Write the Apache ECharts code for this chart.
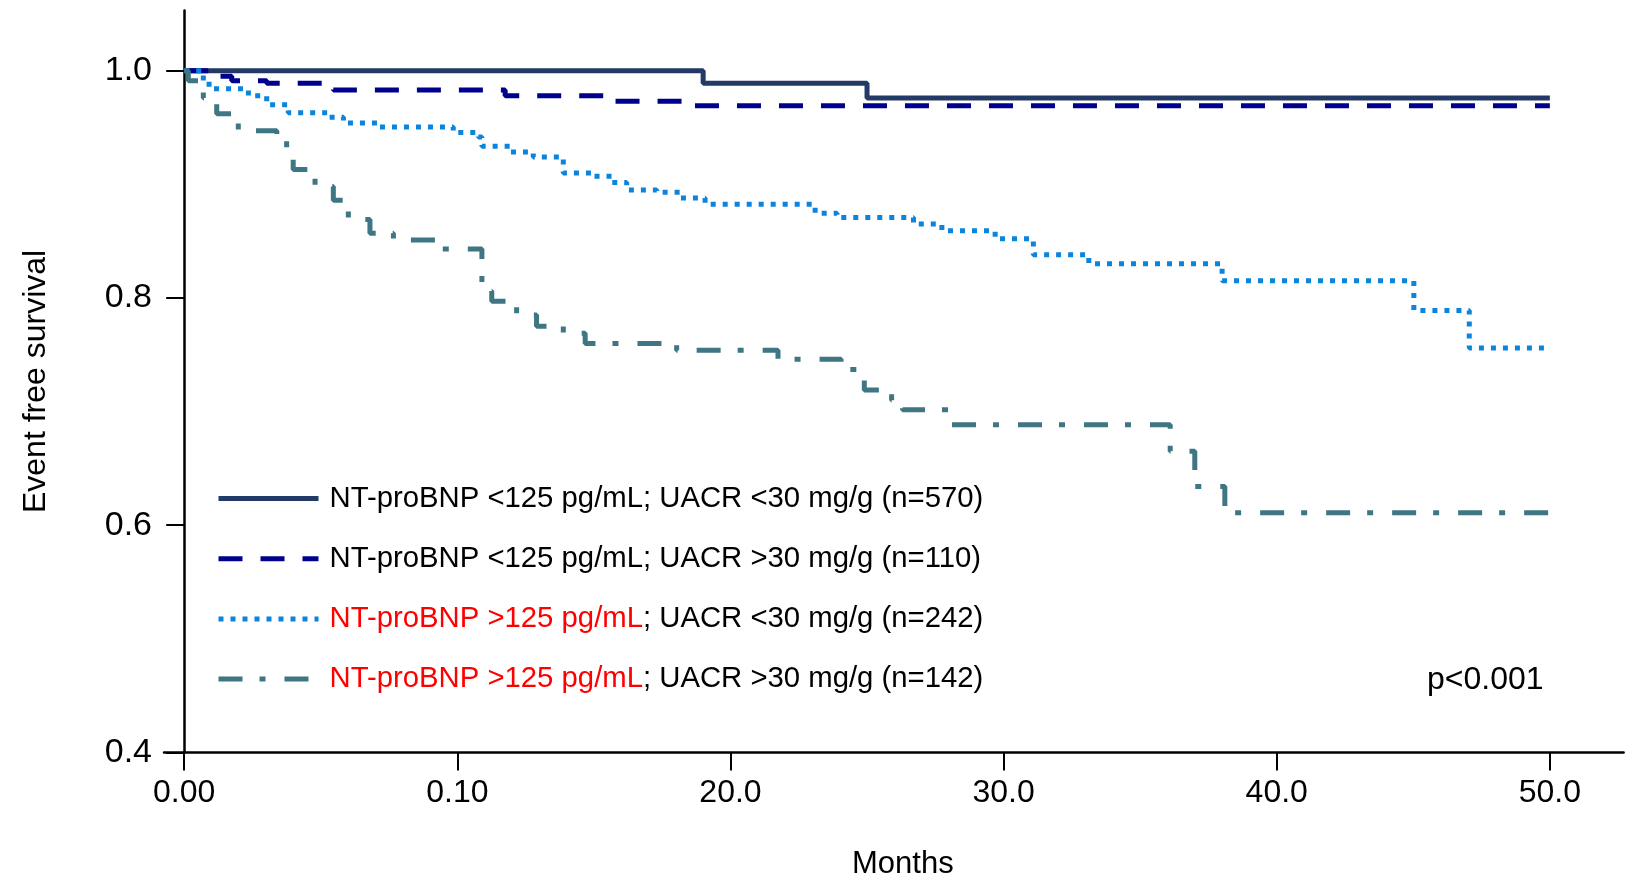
<!DOCTYPE html>
<html>
<head>
<meta charset="utf-8">
<script src="https://cdn.jsdelivr.net/npm/echarts@6/dist/echarts.min.js"></script>
<style>
  html, body { margin: 0; padding: 0; background: #fff; }
  #km_chart { width: 1632px; height: 875px; }
</style>
</head>
<body>
<div id="km_chart"></div>
<script>
// axis ticks
var xTickValues = [0, 10, 20, 30, 40, 50]
var xTickLabels = ['0.00', '0.10', '20.0', '30.0', '40.0', '50.0']
var yTickValues = [0.4, 0.6, 0.8, 1.0]
var yTickLabels = ['0.4', '0.6', '0.8', '1.0']

// group names (legend)
var groupNames = [
  'NT-proBNP <125 pg/mL; UACR <30 mg/g (n=570)',
  'NT-proBNP <125 pg/mL; UACR >30 mg/g (n=110)',
  'NT-proBNP >125 pg/mL; UACR <30 mg/g (n=242)',
  'NT-proBNP >125 pg/mL; UACR >30 mg/g (n=142)'
]

// Kaplan-Meier steps: months and survival after each event
var monthsA = [0, 19, 25, 50]
var survA = [1.0, 0.989, 0.976, 0.976]

var monthsB = [0, 1.0, 1.74, 3.02, 5.46, 11.75, 15.7, 18.27, 50]
var survB = [1.0, 0.995, 0.991, 0.989, 0.983, 0.978, 0.973, 0.969, 0.969]

var monthsC = [0, 0.7, 1.07, 2.35, 3.02, 3.81, 5.28, 5.83, 7.11, 9.85, 10.77, 10.9, 11.93, 12.78,
  13.88, 14.98, 15.65, 16.2, 17.3, 18.15, 19.07, 23.1, 23.9, 26.7, 27.74, 29.69, 31.09, 33.12,
  38.0, 45.02, 47.05, 50]
var survC = [1.0, 0.988, 0.984, 0.978, 0.970, 0.963, 0.959, 0.954, 0.9505, 0.9455, 0.9415, 0.9335,
  0.9285, 0.924, 0.910, 0.907, 0.9015, 0.895, 0.893, 0.888, 0.8825, 0.8746, 0.8707, 0.865, 0.859,
  0.852, 0.838, 0.830, 0.815, 0.789, 0.756, 0.756]

var monthsD = [0, 0.15, 0.7, 1.19, 1.98, 3.39, 3.75, 3.99, 4.79, 5.46, 6.01, 6.8, 7.66, 9.4, 10.9,
  11.26, 12.17, 12.9, 13.88, 14.68, 18.03, 21.74, 24.05, 24.9, 25.9, 26.3, 27.97, 36.1, 37.0, 38.1, 50]
var survD = [1.0, 0.991, 0.976, 0.962, 0.947, 0.9415, 0.931, 0.913, 0.898, 0.886, 0.869, 0.857, 0.851,
  0.843, 0.806, 0.797, 0.785, 0.775, 0.769, 0.760, 0.754, 0.746, 0.737, 0.719, 0.710, 0.7015, 0.6883,
  0.665, 0.634, 0.611, 0.611]

var FONT = '"Liberation Sans", Arial, sans-serif'

function pairs(xs, ys) {
  var out = []
  for (var i = 0; i < xs.length; i++) out.push([xs[i], ys[i]])
  return out
}

function kmSeries(name, xs, ys, color, dash) {
  return {
    name: name,
    type: 'line',
    step: 'end',
    symbol: 'none',
    data: pairs(xs, ys),
    color: color,
    lineStyle: { color: color, width: 5, type: dash, cap: 'butt' }
  }
}

var chart = echarts.init(document.getElementById('km_chart'))
chart.setOption({
  animation: false,
  backgroundColor: '#fff',
  textStyle: { fontFamily: FONT },
  title: {
    text: 'p<0.001',
    left: 1427,
    top: 664,
    padding: 0,
    textStyle: { fontFamily: FONT, fontSize: 32, fontWeight: 'normal', color: '#000' }
  },
  grid: { left: 164, right: 8.4, top: 10.4, bottom: 122.5, containLabel: false, outerBoundsMode: 'none' },
  legend: {
    orient: 'vertical',
    left: 216,
    top: 484,
    padding: 0,
    itemWidth: 100,
    itemHeight: 14,
    itemGap: 31.2,
    lineStyle: { width: 'inherit' },
    itemStyle: { color: 'rgba(0,0,0,0)', borderWidth: 0, opacity: 0 },
    data: groupNames,
    formatter: function(name) {
      var idx = groupNames.indexOf(name)
      if (idx >= 2) {
        var cut = name.indexOf(';')
        return '{r|' + name.slice(0, cut) + '}{k|' + name.slice(cut) + '}'
      }
      return '{k|' + name + '}'
    },
    textStyle: {
      fontFamily: FONT,
      fontSize: 29.3,
      padding: [0, 0, 0, 6],
      rich: {
        r: { color: '#ff0000', fontSize: 29.3, lineHeight: 30, fontFamily: FONT },
        k: { color: '#000000', fontSize: 29.3, lineHeight: 30, fontFamily: FONT }
      }
    }
  },
  xAxis: {
    type: 'value',
    min: -0.74,
    max: 52.7,
    name: 'Months',
    nameLocation: 'middle',
    nameGap: 96,
    nameTextStyle: { fontFamily: FONT, fontSize: 31, color: '#000', padding: [0, 0, 0, 18] },
    axisLine: { onZero: false, lineStyle: { color: '#000', width: 2.5 } },
    axisTick: { customValues: xTickValues, length: 18, lineStyle: { color: '#000', width: 2 } },
    axisLabel: {
      customValues: xTickValues,
      margin: 25,
      fontSize: 32,
      color: '#000',
      fontFamily: FONT,
      formatter: function(v) {
        var i = xTickValues.indexOf(v)
        return i >= 0 ? xTickLabels[i] : ''
      }
    },
    splitLine: { show: false }
  },
  yAxis: {
    type: 'value',
    min: 0.4,
    max: 1.053,
    name: 'Event free survival',
    nameLocation: 'middle',
    nameRotate: 90,
    nameGap: 112,
    nameTextStyle: { fontFamily: FONT, fontSize: 32, color: '#000' },
    axisLine: { onZero: true, lineStyle: { color: '#000', width: 2.5 } },
    axisTick: { customValues: yTickValues, length: 18, lineStyle: { color: '#000', width: 2 } },
    axisLabel: {
      customValues: yTickValues,
      margin: 12,
      fontSize: 34,
      color: '#000',
      fontFamily: FONT,
      formatter: function(v) {
        for (var i = 0; i < yTickValues.length; i++) {
          if (Math.abs(yTickValues[i] - v) < 1e-6) return yTickLabels[i]
        }
        return ''
      }
    },
    splitLine: { show: false }
  },
  series: [
    kmSeries(groupNames[0], monthsA, survA, '#243a66', 'solid'),
    kmSeries(groupNames[1], monthsB, survB, '#00008f', [24, 18]),
    kmSeries(groupNames[2], monthsC, survC, '#0a84dc', [5, 7]),
    kmSeries(groupNames[3], monthsD, survD, '#3e7683', [24, 17, 6, 19])
  ]
})
</script>
</body>
</html>
